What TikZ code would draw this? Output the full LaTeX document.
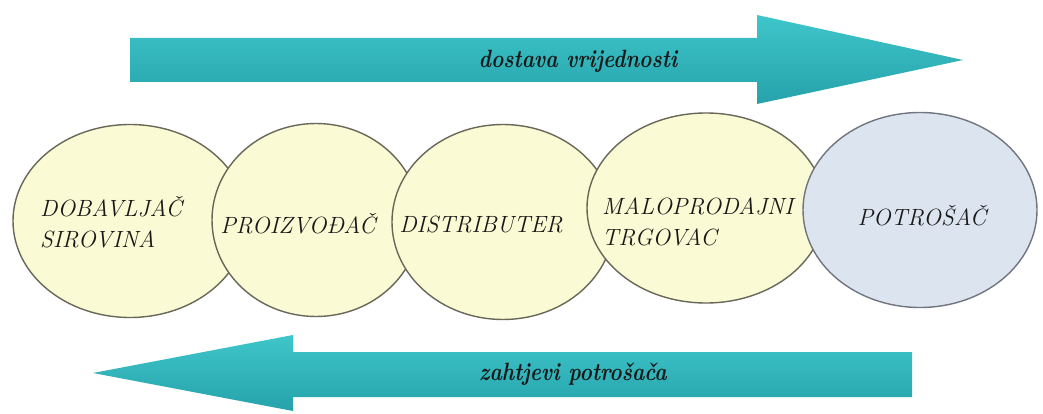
\documentclass[tikz,border=0pt]{standalone}
\usepackage{fontspec}
\usetikzlibrary{shapes.geometric}
\definecolor{arrowtop}{RGB}{62,198,202}
\definecolor{arrowbot}{RGB}{38,162,170}
\definecolor{yfill}{RGB}{250,250,212}
\definecolor{bfill}{RGB}{220,228,240}
\definecolor{yline}{RGB}{105,103,88}
\definecolor{bline}{RGB}{112,117,127}
\definecolor{txt}{RGB}{25,25,25}
\newcommand{\narrowtxt}[1]{\scalebox{0.84}[1]{#1}}
\tikzset{
  stage/.style={ellipse, draw=yline, fill=yfill, line width=1.4pt, inner sep=0pt},
  lbl/.style={font=\fontsize{23.5}{31}\selectfont\itshape, text=txt, inner sep=0pt},
  flowarrow/.style={top color=arrowtop, bottom color=arrowbot, draw=none},
  arrowtext/.style={font=\fontsize{25}{28}\selectfont\bfseries\itshape, text=txt, inner sep=0pt}
}
\begin{document}
\begin{tikzpicture}[x=1pt,y=-1pt]
\useasboundingbox (0,0) rectangle (1043,414);
\fill[white] (0,0) rectangle (1043,414);
% top arrow
\path[flowarrow] (130,38) -- (757,38) -- (757,15) -- (963,60) -- (757,104) -- (757,82) -- (130,82) -- cycle;
\node[arrowtext] (t1) at (578,61) {\narrowtxt{dostava vrijednosti}};
% bottom arrow
\path[flowarrow] (912,352) -- (293,352) -- (293,335) -- (93,373) -- (293,411) -- (293,397) -- (912,397) -- cycle;
\node[arrowtext] (t2) at (573,374) {\narrowtxt{zahtjevi potrošača}};
% ellipses
\node[stage, minimum width=234pt, minimum height=193pt] (e1) at (130,221) {};
\node[stage, minimum width=208pt, minimum height=193pt] (e2) at (316,220) {};
\node[stage, minimum width=222pt, minimum height=195pt] (e3) at (503,222) {};
\node[stage, minimum width=238pt, minimum height=190pt] (e4) at (706,208) {};
\node[stage, draw=bline, fill=bfill, minimum width=234pt, minimum height=195pt] (e5) at (920,210) {};
% labels
\node[lbl, anchor=west, align=left] (l1) at (40,222) {DOBAVLJAČ\\SIROVINA};
\node[lbl] (l2) at (298,224) {PROIZVOĐAČ};
\node[lbl] (l3) at (481,224) {DISTRIBUTER};
\node[lbl, anchor=west, align=left] (l4) at (602,222) {MALOPRODAJNI\\TRGOVAC};
\node[lbl] (l5) at (922,216) {POTROŠAČ};
\end{tikzpicture}
\end{document}
